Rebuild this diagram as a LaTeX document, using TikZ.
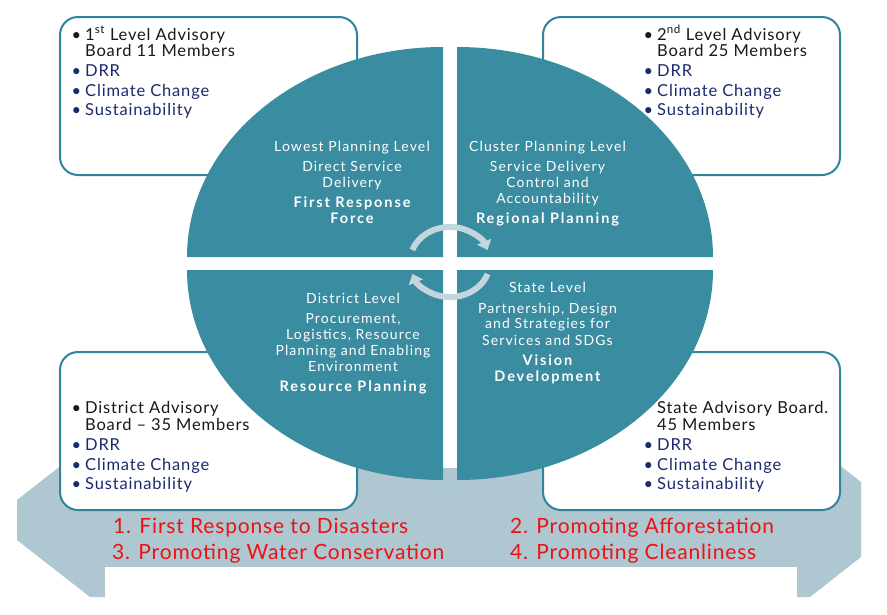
\documentclass[tikz,border=0pt]{standalone}
\usepackage{fontspec}
\setmainfont{Lato}
\usetikzlibrary{arrows.meta}
\definecolor{teal1}{HTML}{3A8CA1}
\definecolor{tealb}{HTML}{31849B}
\definecolor{lightb}{HTML}{AEC7D1}
\definecolor{arrowc}{HTML}{C4D6DD}
\definecolor{navy}{HTML}{1C2A6E}
\definecolor{redt}{HTML}{EE1111}
\tikzset{
  board/.style={draw=tealb, line width=2pt, fill=white, rounded corners=18pt},
  quad/.style={fill=teal1},
  btxt/.style={inner sep=0pt, anchor=base west, font=\fontsize{16.5}{19}\selectfont\addfontfeature{LetterSpace=5}},
  head/.style={btxt, text=black!90},
  item/.style={btxt, text=navy},
  ctxt/.style={inner sep=0pt, anchor=base, text=white, font=\fontsize{14}{16}\selectfont\addfontfeature{LetterSpace=8}},
  cbold/.style={ctxt, font=\fontsize{14.5}{16}\selectfont\bfseries\addfontfeature{LetterSpace=13}},
  rtxt/.style={inner sep=0pt, anchor=base west, text=redt, font=\fontsize{21}{24}\selectfont\addfontfeature{LetterSpace=4}},
  cyc/.style={draw=arrowc, line width=6pt, -{Triangle[width=15pt,length=9pt]}},
}
\newcommand\bul{\llap{\textbullet\hspace{4pt}}}
\begin{document}
\begin{tikzpicture}[x=1pt,y=-1pt]
\useasboundingbox (0,0) rectangle (887,614);
\fill[white] (0,0) rectangle (887,614);
% background double arrow
\fill[lightb] (17,500) -- (90,443) -- (90,468) -- (810,468) -- (810,442) -- (861,482)
  -- (861,557) -- (810,597) -- (90,597) -- (17,540) -- cycle;
\fill[white] (105,567) rectangle (797,614);
% boards
\draw[board] (60,17) rectangle (357,175);
\draw[board] (543,17) rectangle (840,175);
\draw[board] (60,352) rectangle (357,510);
\draw[board] (543,352) rectangle (840,510);
% quadrants
\fill[quad] (443,257) -- (187,257) arc[start angle=180, end angle=270, x radius=256, y radius=210] -- cycle;
\fill[quad] (457,257) -- (457,47) arc[start angle=270, end angle=360, x radius=256, y radius=210] -- cycle;
\fill[quad] (457,270) -- (713,270) arc[start angle=0, end angle=90, x radius=256, y radius=210] -- cycle;
\fill[quad] (443,270) -- (443,480) arc[start angle=90, end angle=180, x radius=256, y radius=210] -- cycle;
% board texts
\node[head] (tlA) at (85,40) {\bul 1\textsuperscript{st} Level Advisory};
\node[head] (tlB) at (85,56.5) {Board 11 Members};
\node[item] (tlC) at (85,76) {\bul DRR};
\node[item] (tlD) at (85,96) {\bul Climate Change};
\node[item] (tlE) at (85,115) {\bul Sustainability};
\node[head] (trA) at (657,40) {\bul 2\textsuperscript{nd} Level Advisory};
\node[head] (trB) at (657,56.5) {Board 25 Members};
\node[item] (trC) at (657,76) {\bul DRR};
\node[item] (trD) at (657,96) {\bul Climate Change};
\node[item] (trE) at (657,115) {\bul Sustainability};
\node[head] (blA) at (85,413.5) {\bul District Advisory};
\node[head] (blB) at (85,430) {Board -- 35 Members};
\node[item] (blC) at (85,450) {\bul DRR};
\node[item] (blD) at (85,470) {\bul Climate Change};
\node[item] (blE) at (85,489) {\bul Sustainability};
\node[head] (brA) at (657,413.5) {State Advisory Board.};
\node[head] (brB) at (657,430) {45 Members};
\node[item] (brC) at (657,450) {\bul DRR};
\node[item] (brD) at (657,470) {\bul Climate Change};
\node[item] (brE) at (657,489) {\bul Sustainability};
% circle texts
\node[ctxt] (q1a) at (352,151.7) {Lowest Planning Level};
\node[ctxt] (q1b) at (352,171.7) {Direct Service};
\node[ctxt] (q1c) at (352,187.7) {Delivery};
\node[cbold] (q1d) at (352,207.7) {First Response};
\node[cbold] (q1e) at (352,223.7) {Force};
\node[ctxt] (q2a) at (547.5,151.7) {Cluster Planning Level};
\node[ctxt] (q2b) at (547.5,171.7) {Service Delivery};
\node[ctxt] (q2c) at (547.5,187.7) {Control and};
\node[ctxt] (q2d) at (547.5,203.7) {Accountability};
\node[cbold] (q2e) at (547.5,223.7) {Regional Planning};
\node[ctxt] (q3a) at (353,303.7) {District Level};
\node[ctxt] (q3b) at (353,323.7) {Procurement,};
\node[ctxt] (q3c) at (353,339.7) {Logistics, Resource};
\node[ctxt] (q3d) at (353,355.7) {Planning and Enabling};
\node[ctxt] (q3e) at (353,371.7) {Environment};
\node[cbold] (q3f) at (353,391.7) {Resource Planning};
\node[ctxt] (q4a) at (547.5,292.7) {State Level};
\node[ctxt] (q4b) at (547.5,313.7) {Partnership, Design};
\node[ctxt] (q4c) at (547.5,328.7) {and Strategies for};
\node[ctxt] (q4d) at (547.5,345.7) {Services and SDGs};
\node[cbold] (q4e) at (547.5,365.7) {Vision};
\node[cbold] (q4f) at (547.5,381.7) {Development};
% red goals
\node[rtxt] (g1) at (113,533.5) {1. First Response to Disasters};
\node[rtxt] (g3) at (112,559.5) {3. Promoting Water Conservation};
\node[rtxt] (g2) at (510,533.5) {2. Promoting Afforestation};
\node[rtxt] (g4) at (510,559.5) {4. Promoting Cleanliness};
% cycle arrows
\coordinate (c1s) at (412.4,250);
\coordinate (c2s) at (487.6,274);
\draw[cyc] (c1s) arc[start angle=200, end angle=340, x radius=40, y radius=35];
\draw[cyc] (c2s) arc[start angle=20, end angle=160, x radius=40, y radius=35];
\end{tikzpicture}
\end{document}
